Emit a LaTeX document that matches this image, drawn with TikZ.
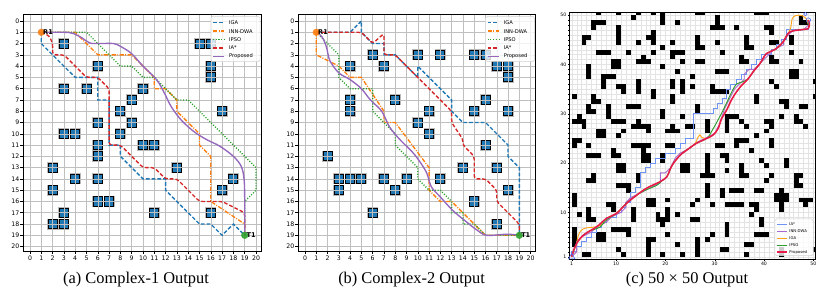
\documentclass[tikz,border=0pt]{standalone}
\usepackage{fontspec}
\setmainfont{Liberation Serif}
\newfontfamily\mplfont{DejaVu Sans}

% couleurs
\definecolor{tabbleu}{HTML}{1F77B4}
\definecolor{taborange}{HTML}{FF7F0E}
\definecolor{tabvert}{HTML}{2CA02C}
\definecolor{tabrouge}{HTML}{D62728}
\definecolor{tabviolet}{HTML}{9467BD}
\definecolor{ciel}{HTML}{6F93F2}
\definecolor{mauve}{HTML}{A86ACC}
\definecolor{ambre}{HTML}{FFA31A}
\definecolor{foret}{HTML}{2F9E2F}
\definecolor{cramoisi}{HTML}{E8194B}

\tikzset{
  grille/.style={gray!50, line width=0.45pt},
  grillefine/.style={gray!22, line width=0.2pt},
  cadre/.style={black, line width=0.5pt},
  halo/.style={fill=gray!55},
  obstacle/.style={fill=tabbleu, draw=black, line width=0.8pt},
  graduation/.style={font=\mplfont\fontsize{5.3}{6}\selectfont, inner sep=0.6pt},
  petitegrad/.style={font=\mplfont\fontsize{4}{4.5}\selectfont, inner sep=0.3pt},
  legende/.style={font=\mplfont\fontsize{4.4}{5}\selectfont, anchor=west, inner sep=0pt},
  petitelegende/.style={font=\mplfont\fontsize{3.3}{4}\selectfont, anchor=west, inner sep=0pt},
  boite/.style={fill=white, fill opacity=0.8, draw=gray!35, line width=0.4pt, rounded corners=1.5pt},
  etiquette/.style={font=\mplfont\bfseries\fontsize{5.6}{6}\selectfont, anchor=west, inner sep=0pt},
  legendecap/.style={font=\fontsize{14}{16}\selectfont},
  iga/.style={tabbleu, line width=1.15pt, dash pattern=on 3.2pt off 1.7pt},
  inndwa/.style={taborange, line width=1.15pt, dash pattern=on 3.6pt off 1.2pt on 0.8pt off 1.2pt},
  ipso/.style={tabvert, line width=1.15pt, dash pattern=on 0.9pt off 1.4pt},
  iastar/.style={tabrouge, line width=1.15pt, dash pattern=on 3.2pt off 1.7pt, rounded corners=2.5pt},
  propose/.style={tabviolet, line width=1.15pt},
  cia/.style={ciel, line width=0.8pt},
  cinn/.style={mauve, line width=0.8pt},
  ciga/.style={ambre, line width=0.8pt},
  cipso/.style={foret, line width=0.8pt},
  cprop/.style={cramoisi, line width=1.3pt},
}

% un obstacle des panneaux 20x20
\newcommand{\bloc}[2]{%
  \fill[halo] (#1-0.49,#2-0.49) rectangle (#1+0.49,#2+0.49);
  \draw[obstacle] (#1-0.4,#2-0.4) rectangle (#1+0.4,#2+0.4);}

% grille, cadre et graduations d'un panneau 20x20
\newcommand{\axesvingt}{%
  \foreach \k in {0,...,20} {
    \draw[grille] (\k,-0.55) -- (\k,20.45);
    \draw[grille] (-0.6,\k) -- (20.45,\k);
    \draw[cadre] (\k,20.45) -- (\k,20.7);
    \draw[cadre] (-0.6,\k) -- (-0.85,\k);
    \node[graduation, anchor=north] at (\k,20.72) {\k};
    \node[graduation, anchor=east] at (-0.87,\k) {\k};
  }
  \draw[cadre] (-0.6,-0.55) rectangle (20.45,20.45);}

% legende des panneaux (a) et (b)
\newcommand{\legendeab}[1]{%
  \draw[boite] (16.0,-0.4) rectangle (20.36,3.6);
  \draw[iga] (16.2,0.15) -- (17.2,0.15);
  \draw[inndwa] (16.2,0.9) -- (17.2,0.9);
  \draw[ipso] (16.2,1.65) -- (17.2,1.65);
  \draw[iastar] (16.2,2.4) -- (17.2,2.4);
  \draw[propose] (16.2,3.15) -- (17.2,3.15);
  \node[legende] (#1-iga) at (17.6,0.15) {IGA};
  \node[legende] (#1-inn) at (17.6,0.9) {INN-DWA};
  \node[legende] (#1-ipso) at (17.6,1.65) {IPSO};
  \node[legende] (#1-ia) at (17.6,2.4) {IA*};
  \node[legende] (#1-prop) at (17.6,3.15) {Proposed};}

\begin{document}
\begin{tikzpicture}[x=0.03cm, y=-0.03cm]
  \useasboundingbox (0,0) rectangle (833,293);

  % (a) Complex-1
  \begin{scope}[shift={(30,21)}, x=0.339cm, y=-0.3384cm]
    \foreach \ox/\oy in {3/2,15/2,16/2,6/4,16/4,16/5,3/6,5/6,10/6,9/7,8/8,17/8,6/9,9/9,
      3/10,4/10,8/10,6/11,10/11,11/11,6/12,2/13,13/13,4/14,6/14,18/14,2/15,17/15,
      6/16,7/16,3/17,11/17,16/17,2/18,3/18}
      {\bloc{\ox}{\oy}}
    \axesvingt
    % chemins
    \draw[iga] (1,1) -- (1,2) -- (4,5) -- (6,5) -- (6,7) -- (7,7) -- (7,11) -- (8,11) -- (8,12)
      -- (10,14) -- (12,14) -- (12,15) -- (15,18) -- (16,18) -- (17,19) -- (18,18) -- (19,19);
    \draw[inndwa] (1,1) -- (4,1) -- (6,3) -- (9,3) -- (11,5) -- (11,6) -- (12,6) -- (13,7)
      -- (13,8) -- (15,10) -- (15,11) -- (16,12) -- (16,16) -- (19,18) -- (19,19);
    \draw[ipso] (1,1) -- (5,1) -- (8,4) -- (9,4) -- (10,5) -- (11,5) -- (13,7) -- (14,7)
      -- (19,12) -- (20,13) -- (20,15) -- (19,16) -- (19,19);
    \draw[iastar] (1,1) -- (1.7,1.3) -- (2,2) -- (2,3) -- (3,3) -- (5,5) -- (6,5) -- (7,6)
      -- (7,11) -- (8,11) -- (10,13) -- (11,13) -- (12,14) -- (13,14) -- (15,16) -- (17,16)
      -- (19,17) -- (19,19);
    \draw[propose] plot[smooth, tension=0.55] coordinates {(1,1) (3,1) (3.8,1.1) (4.6,1.5)
      (5.3,1.95) (6.2,2) (7.4,2) (8.1,2.3) (9,2.9) (10,4) (11.2,5.2) (11.9,6.4) (12.5,7.6)
      (13.4,8.8) (14.5,9.8) (15.6,10.5) (16.8,11.1) (18,12) (18.7,12.9) (18.95,14.1) (19,16) (19,19)};
    % depart et arrivee
    \fill[taborange, opacity=0.9] (1,1) circle (0.32);
    \fill[tabvert, opacity=0.9] (19,19) circle (0.32);
    \node[etiquette] (r1a) at (1.15,1) {R1};
    \node[etiquette] (t1a) at (19.15,19) {T1};
    \legendeab{a}
  \end{scope}
  \node[legendecap] (capa) at (136,280) {(a) Complex-1 Output};

  % (b) Complex-2
  \begin{scope}[shift={(305,21)}, x=0.3384cm, y=-0.3384cm]
    \foreach \ox/\oy in {6/3,10/3,12/3,15/3,16/3,4/4,7/4,17/4,18/4,18/5,4/7,8/7,16/7,
      4/8,11/8,15/8,18/8,10/9,11/10,16/11,2/12,14/13,17/13,3/14,4/14,5/14,7/14,9/14,
      12/14,3/15,8/15,18/15,15/16,6/17,17/18}
      {\bloc{\ox}{\oy}}
    \axesvingt
    % chemins
    \draw[iga] (1,1) -- (4,1) -- (5,0) -- (5,1) -- (6,2) -- (7,2) -- (7,3) -- (8,3) -- (10,5)
      -- (10,4) -- (13,7) -- (13,8) -- (14,9) -- (16,9) -- (18,11) -- (18,12) -- (19,13) -- (19,19);
    \draw[inndwa] (1,1) -- (1,3) -- (3,4) -- (4,5) -- (5,5) -- (7,8) -- (7,9) -- (8,9)
      -- (11,13) -- (11,15) -- (12,16) -- (13,16) -- (16,19) -- (19,19);
    \draw[ipso] (1,1) -- (2,2) -- (3,3) -- (3,5) -- (4,6) -- (6,6) -- (6,8) -- (7,9) -- (8,10)
      -- (8,11) -- (10,13) -- (10,14) -- (11,15) -- (12,15) -- (13,16) -- (13,17) -- (14,17)
      -- (14,18) -- (15,18) -- (16,19) -- (19,19);
    \draw[iastar] (1,1) -- (5,1) -- (6,2) -- (7,1.1) -- (7,3) -- (8,3) -- (13,8) -- (13,9)
      -- (14,10.5) -- (14,11) -- (15,12) -- (15,14) -- (16,14) -- (17,15) -- (17,16)
      -- (19,18) -- (19,19);
    \draw[propose] plot[smooth, tension=0.55] coordinates {(1,1) (1.5,1.4) (1.9,2.3) (2.2,3.5)
      (3,4.6) (4,5.2) (5,6) (5.8,7) (6.8,8) (7.5,9.4) (8.4,10.5) (9.5,11.6) (10.2,12.5)
      (10.8,13.5) (11.2,14.7) (12,15.6) (13.1,16.8) (14.3,17.8) (15.2,18.5) (16.1,19)
      (17.9,18.9) (19,19)};
    % depart et arrivee
    \fill[taborange, opacity=0.9] (1,1) circle (0.32);
    \fill[tabvert, opacity=0.9] (19,19) circle (0.32);
    \node[etiquette] (r1b) at (1.15,1) {R1};
    \node[etiquette] (t1b) at (19.15,19) {T1};
    \legendeab{b}
  \end{scope}
  \node[legendecap] (capb) at (411.6,280) {(b) Complex-2 Output};

  % (c) 50 x 50
  \begin{scope}[shift={(566.77,261.63)}, x=0.1479cm, y=0.1479cm]
    % grille fine
    \foreach \k in {1,...,50} {
      \draw[grillefine] (\k,0.5) -- (\k,50.5);
      \draw[grillefine] (0.5,\k) -- (50.5,\k);
      \draw[cadre, line width=0.25pt] (\k,0.5) -- (\k,0.3);
      \draw[cadre, line width=0.25pt] (0.5,\k) -- (0.3,\k);
    }
    % obstacles
    \begin{scope}
      \clip (0.5,0.5) rectangle (50.5,50.5);
      \foreach \cx/\cy in {6/50,10/50,14/50,13/49,17/50,19/50,19/49,19/48,22/48,5/48,6/48,7/48,
        5/47,10/47,10/46,10/45,10/44,3/45,4/45,3/44,14/44,17/46,16/45,17/45,17/44,21/44,19/43,
        6/42,7/42,8/42,12/42,17/42,21/42,22/42,23/42,21/41,9/40,10/40,9/39,10/39,15/41,14/40,
        15/40,16/40,23/40,19/39,4/39,4/38,4/37,22/38,25/37,7/37,8/37,9/37,7/36,7/35,10/35,
        11/35,11/34,14/36,14/35,14/34,17/34,17/33,21/36,21/35,23/36,23/35,23/34,25/35,1/33,
        5/33,5/32,6/32,21/33,21/32,12/31,13/31,14/31,4/31,4/30,5/30,8/31,8/30,8/29,19/30,
        19/29,23/29,2/29,1/28,2/28,3/28,3/27,9/28,10/28,11/28,14/28,13/27,14/27,15/27,16/27,
        16/26,11/26,10/25,6/26,7/26,6/25,7/25,21/27,20/26,21/26,22/26,24/27,25/27,
        26/50,27/50,38/50,39/50,40/50,30/49,30/48,29/47,30/47,31/47,34/47,40/47,41/47,41/46,
        47/48,48/48,47/49,26/45,26/44,26/43,27/43,30/44,36/45,36/44,36/43,37/43,41/44,42/44,
        45/45,45/44,31/42,26/40,27/40,35/41,35/40,36/40,41/41,41/40,42/40,45/42,47/40,30/38,
        31/38,32/38,41/36,42/35,45/38,46/38,45/37,46/37,50/36,29/35,29/34,30/34,31/34,32/34,
        38/33,38/32,43/32,44/32,44/31,47/31,48/31,50/33,26/31,26/30,32/29,32/28,32/27,32/26,
        33/29,34/29,35/28,28/28,28/27,28/26,40/28,41/28,41/27,43/29,46/29,46/28,47/28,48/27,
        36/27,38/25,40/26,
        1/24,2/24,1/23,4/23,13/23,14/23,15/23,16/23,15/22,20/23,21/23,4/21,5/21,6/21,9/22,
        9/21,10/21,15/20,16/20,15/21,16/21,19/21,19/20,23/19,24/19,23/18,24/18,10/19,11/19,
        10/18,11/18,5/17,4/16,5/16,10/15,11/15,12/15,12/14,14/17,14/16,1/13,1/12,1/11,8/11,
        9/11,9/10,16/12,17/12,16/11,17/11,20/12,2/9,4/10,4/9,4/8,5/8,13/10,13/9,13/8,18/9,
        18/8,19/8,19/7,20/10,20/9,20/8,22/9,1/6,1/5,1/4,1/3,9/6,10/6,11/6,12/6,12/5,6/5,7/5,
        6/4,7/4,16/4,17/4,16/3,20/5,22/3,3/1,4/1,10/2,11/1,16/2,16/1,19/1,23/1,
        30/23,31/23,34/24,35/24,36/24,34/23,41/24,41/23,28/21,28/20,28/19,28/18,27/17,28/17,
        29/17,31/21,32/21,32/20,32/18,35/19,35/18,35/17,36/17,37/22,39/20,40/19,44/20,44/19,
        41/17,40/16,46/17,47/17,46/16,46/15,47/15,28/15,28/14,28/13,31/14,31/13,33/14,34/14,
        35/14,38/14,39/14,42/13,43/13,44/13,42/12,43/12,44/12,43/14,43/11,43/10,47/12,48/12,
        49/12,48/11,26/12,25/11,29/11,32/11,33/11,34/11,35/11,37/11,38/11,38/10,25/8,26/8,
        32/7,32/6,32/5,37/9,39/8,39/7,38/5,39/5,40/5,29/5,28/4,31/2,32/2,36/3,37/3,36/1,
        26/4,26/3,26/2,26/1,43/2,43/1,50/2}
        {\fill (\cx,\cy) rectangle ++(1,1);}
    \end{scope}
    % graduations
    \foreach \k in {1,10,20,30,40,50} {
      \draw[cadre, line width=0.3pt] (\k,0.5) -- (\k,0.15);
      \draw[cadre, line width=0.3pt] (0.5,\k) -- (0.15,\k);
      \node[petitegrad, anchor=north] at (\k,0.05) {\k};
      \node[petitegrad, anchor=east] at (0.05,\k) {\k};
    }
    \draw[cadre] (0.5,0.5) rectangle (50.5,50.5);
    % chemins
    \draw[cia] plot coordinates {(1,1) (1,2) (2,2) (2,3) (3,3) (3,4) (4,4) (4,5) (5,5) (5,6)
      (6,6) (6,7) (7,7) (7,8) (8,8) (8,9) (10,9) (10,10) (11,10) (11,11) (12,11) (12,12)
      (13,12) (13,14) (14,14) (14,15) (15,15) (15,18) (16,18) (16,19) (17,19) (17,20) (18,20)
      (18,21) (20,21) (20,22) (22,22) (22,23) (23,23) (23,24) (24,24) (24,25) (25.7,25)
      (25.7,30) (29.7,30) (29.7,31) (30.5,31) (30.5,32) (31.5,32) (31.5,33) (32.3,33)
      (32.3,35) (33.3,35) (33.3,36) (34.5,36) (34.5,37) (35.5,37) (35.5,38) (36.5,38)
      (36.5,39) (37.5,39) (37.5,40) (38.5,40) (38.5,41) (39.5,41) (39.5,42) (41.5,42)
      (41.5,43) (42.5,43) (42.5,44) (43.5,44) (43.5,45) (44.5,45) (44.5,47) (49,47) (49,49)};
    \draw[cinn] plot coordinates {(1,1) (2,2) (2,4) (3,5) (5,6) (6,7) (8,8) (9,9) (11,10)
      (12,11) (12,12) (13,13) (15,14) (17,15) (19,16) (19,18) (20,18) (21,19) (22,21) (23,22)
      (25,23) (26,24) (28,25) (30,26) (31,28) (32,31) (33,33) (34,35) (35,36) (36,37) (36,38)
      (37,39) (38,39) (39,40) (40,41) (41,42) (42,43) (44,44) (44,45) (45,46) (46,47) (48,47)
      (49,48) (49,49)};
    \draw[ciga] plot[smooth, tension=0.55] coordinates {(1,1) (1.6,2.6) (2,3.6) (2.3,5.2)
      (2.9,6.3) (3.8,6.8) (5.5,7) (6.7,7.3) (8.1,8.8) (10.1,9.8) (12.1,11.8) (14.2,13.5)
      (16.2,14.9) (18.9,16.2) (20.3,17.2) (20.9,18.6) (21.6,19.9) (23,21.6) (24.3,22.6)
      (26,23.9) (26.5,25) (27,25.7) (27.4,25.2) (28.4,25) (29.7,25.7) (30.7,27) (31.4,29)
      (32.4,30.7) (33.4,32.8) (34.4,34.4) (35.5,35.8) (36.8,37.1) (37.8,38.5) (39.2,40.2)
      (40.5,42.2) (42.2,43) (43.9,44.6) (44.9,46.3) (45.4,47.3) (45.7,49.2) (46.4,49.9)
      (47.7,49.9) (48.6,49.2) (48.9,48.4) (49,49)};
    \draw[cipso] plot[smooth, tension=0.55] coordinates {(1,1) (2,3.7) (3.4,5.4) (5,6.4)
      (6.6,6.9) (8.1,8.5) (10.1,9.8) (12.1,11.8) (14.2,13.5) (16.2,14.6) (18.3,15.5)
      (19.3,16.4) (20.3,17.2) (20.9,18.6) (21.6,19.9) (23,21.6) (24.3,22.6) (26.3,24)
      (28.4,25) (29.6,26.8) (30.6,28.6) (31.6,30.5) (32.6,32.6) (33.5,34.5) (34.4,36)
      (35.5,36.4) (36.8,37.1) (37.8,38.5) (39.2,40.2) (40.5,42.2) (42.2,43) (43.9,44.6)
      (44.9,46.3) (45.9,46.8) (48,47.1) (49,47.3) (49,49)};
    \draw[cprop] plot[smooth, tension=0.55] coordinates {(1,1) (1.5,2.6) (2,3.7) (3.4,5.4)
      (6.1,7.1) (8.1,8.8) (10.1,9.8) (12.1,11.8) (14.2,13.5) (16.2,14.9) (18.9,16.2)
      (20.3,17.2) (20.9,18.6) (21.6,19.9) (23,21.6) (24.3,22.6) (26.3,24) (28.4,25)
      (29.7,25.7) (30.7,27) (31.4,29) (32.4,30.7) (33.4,32.8) (34.4,34.4) (35.5,35.8)
      (36.8,37.1) (37.8,38.5) (39.2,40.2) (40.5,42.2) (42.2,43) (43.9,44.6) (44.9,46.3)
      (45.9,46.8) (48,47.1) (49,47.3) (49.2,48.3) (49,49)};
    % depart et but
    \draw[ciel!70!blue, line width=0.5pt] (0.35,0.55) -- (1.65,0.55) -- (1,1.7) -- cycle;
    \draw[ciel!70!blue, line width=0.5pt] (49,49) circle (0.45);
    \draw[ciel!70!blue, line width=0.5pt] (48.4,50.2) circle (0.35);
    % legende
    \draw[boite] (42.2,1.2) rectangle (50,8.65);
    \draw[cia] (42.7,7.63) -- (44.6,7.63);
    \draw[cinn] (42.7,6.15) -- (44.6,6.15);
    \draw[ciga] (42.7,4.79) -- (44.6,4.79);
    \draw[cipso] (42.7,3.37) -- (44.6,3.37);
    \draw[cprop] (42.7,1.95) -- (44.6,1.95);
    \node[petitelegende] (c-ia) at (45.1,7.63) {IA*};
    \node[petitelegende] (c-inn) at (45.1,6.15) {INN-DWA};
    \node[petitelegende] (c-iga) at (45.1,4.79) {IGA};
    \node[petitelegende] (c-ipso) at (45.1,3.37) {IPSO};
    \node[petitelegende] (c-prop) at (45.1,1.95) {Proposed};
  \end{scope}
  \node[legendecap] (capc) at (687,280) {(c) 50 × 50 Output};
\end{tikzpicture}
\end{document}
